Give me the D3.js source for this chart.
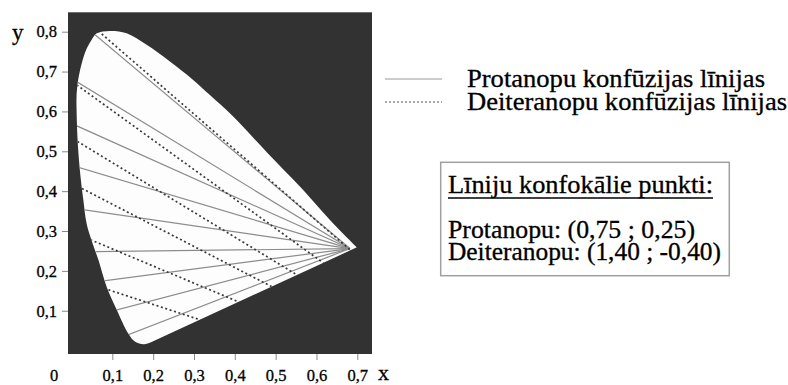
<!DOCTYPE html>
<html>
<head>
<meta charset="utf-8">
<script src="https://cdn.jsdelivr.net/npm/d3@7/dist/d3.min.js"></script>
<style>
  html, body { margin: 0; padding: 0; background: #fff; }
  svg { display: block; }
  text { font-family: "Liberation Serif", "Times New Roman", serif; fill: #000; stroke: #000; stroke-width: 0.3px; }
</style>
</head>
<body>
<svg id="chart" width="788" height="385"></svg>
<script>
// Spectral locus (chromaticity x, y), from the violet end up the green arc to the red end
const locus = [
  [0.192, 0.020], [0.176, 0.016], [0.156, 0.022], [0.139, 0.043],
  [0.111, 0.102], [0.086, 0.160], [0.066, 0.227], [0.049, 0.277],
  [0.037, 0.319], [0.029, 0.378], [0.023, 0.428], [0.017, 0.495],
  [0.013, 0.579], [0.014, 0.662], [0.033, 0.747], [0.049, 0.779],
  [0.062, 0.796], [0.094, 0.802], [0.135, 0.796], [0.184, 0.767],
  [0.241, 0.725], [0.298, 0.679], [0.339, 0.641], [0.396, 0.587],
  [0.480, 0.496], [0.560, 0.411], [0.641, 0.319], [0.699, 0.259]
];

// Where each confusion line leaves the locus
const protanStarts = [
  [0.058, 0.792], [0.017, 0.672], [0.017, 0.562], [0.025, 0.457],
  [0.033, 0.353], [0.053, 0.248], [0.078, 0.175], [0.111, 0.102],
  [0.147, 0.043]
];
const deutanStarts = [
  [0.070, 0.798], [0.023, 0.659], [0.019, 0.522], [0.025, 0.407],
  [0.049, 0.277], [0.086, 0.154]
];
// Points the two line families run towards on this diagram
const protanMeet = [0.682, 0.256];
const deutanMeet = [1.22, -0.226];

// Axis ticks
const xTicks = [0.1, 0.2, 0.3, 0.4, 0.5, 0.6, 0.7];
const yTicks = [0.1, 0.2, 0.3, 0.4, 0.5, 0.6, 0.7, 0.8];

// Legend and note texts
const legendLabels = ["Protanopu konfūzijas līnijas", "Deiteranopu konfūzijas līnijas"];
const legendWidths = [298, 320];
const noteTitle = "Līniju konfokālie punkti:";
const noteLines = ["Protanopu: (0,75 ; 0,25)", "Deiteranopu: (1,40 ; -0,40)"];
const noteWidths = [247, 273];

const svg = d3.select("#chart");
const locale = d3.formatLocale({ decimal: ",", thousands: " ", grouping: [3], currency: ["", ""] });
const fmt = locale.format(".1f");

const x = d3.scaleLinear().domain([0, 0.7]).range([71.5, 357.3]);
const y = d3.scaleLinear().domain([0, 0.8]).range([350.6, 31.7]);

const plot = { left: 68, right: 372, top: 12.3, bottom: 354 };

// dark plot field
svg.append("rect")
  .attr("x", plot.left).attr("y", plot.top)
  .attr("width", plot.right - plot.left).attr("height", plot.bottom - plot.top)
  .attr("fill", "#323232");

// locus outline: smooth arc, closed by the straight purple line
const arc = d3.line().x(d => x(d[0])).y(d => y(d[1])).curve(d3.curveCatmullRom.alpha(0.5));
const locusPath = arc(locus) + "Z";

svg.append("clipPath").attr("id", "locusClip")
  .append("path").attr("d", locusPath);

svg.append("path").attr("d", locusPath).attr("fill", "#fdfdfd");

const lines = svg.append("g").attr("clip-path", "url(#locusClip)");

// protanope confusion lines: from the meeting point out through each start point
lines.selectAll("line.protan").data(protanStarts).join("line")
  .attr("class", "protan")
  .attr("x1", x(protanMeet[0])).attr("y1", y(protanMeet[1]))
  .attr("x2", d => x(protanMeet[0] + 1.15 * (d[0] - protanMeet[0])))
  .attr("y2", d => y(protanMeet[1] + 1.15 * (d[1] - protanMeet[1])))
  .attr("stroke", "#8c8c8c").attr("stroke-width", 1.2);

// deuteranope confusion lines: through each start point towards the far meeting point
lines.selectAll("line.deutan").data(deutanStarts).join("line")
  .attr("class", "deutan")
  .attr("x1", d => x(d[0] - 0.1 * (deutanMeet[0] - d[0])))
  .attr("y1", d => y(d[1] - 0.1 * (deutanMeet[1] - d[1])))
  .attr("x2", x(deutanMeet[0])).attr("y2", y(deutanMeet[1]))
  .attr("stroke", "#3a3a3a").attr("stroke-width", 1.7)
  .attr("stroke-dasharray", "2,2.6");

// axes
const xAxis = svg.append("g").attr("transform", `translate(0,${plot.bottom})`)
  .call(d3.axisBottom(x).tickValues(xTicks).tickFormat(fmt).tickSize(6).tickPadding(9));
const yAxis = svg.append("g").attr("transform", `translate(${plot.left},0)`)
  .call(d3.axisLeft(y).tickValues(yTicks).tickFormat(fmt).tickSize(6).tickPadding(5));
[xAxis, yAxis].forEach(g => {
  g.select(".domain").remove();
  g.selectAll(".tick line").attr("stroke", "#8a8a8a");
  g.selectAll(".tick text").style("font-family", '"Liberation Serif", serif')
    .style("font-size", "16.5px").attr("fill", "#000");
});

// shared origin label and axis names
svg.append("text").attr("x", 54).attr("y", 381).attr("text-anchor", "middle")
  .style("font-size", "16.5px").text(fmt(0).replace(",0", ""));
svg.append("text").attr("x", 12).attr("y", 40).style("font-size", "23px").text("y");
svg.append("text").attr("x", 378).attr("y", 380).style("font-size", "22px").text("x");

// legend
const legend = svg.append("g");
const legendY = [79, 102];
legend.selectAll("line").data(legendLabels).join("line")
  .attr("x1", 385).attr("x2", 442)
  .attr("y1", (d, i) => legendY[i]).attr("y2", (d, i) => legendY[i])
  .attr("stroke", (d, i) => i === 0 ? "#9a9a9a" : "#555")
  .attr("stroke-width", (d, i) => i === 0 ? 1.2 : 1.1)
  .attr("stroke-dasharray", (d, i) => i === 0 ? null : "2,2");
legend.selectAll("text").data(legendLabels).join("text")
  .attr("x", 467).attr("y", (d, i) => legendY[i] + 7.5)
  .attr("textLength", (d, i) => legendWidths[i]).attr("lengthAdjust", "spacingAndGlyphs")
  .style("font-size", "24.5px").text(d => d);

// note box with the confocal points
svg.append("rect")
  .attr("x", 440.7).attr("y", 162.3).attr("width", 288.6).attr("height", 113.4)
  .attr("fill", "#fff").attr("stroke", "#a0a0a0").attr("stroke-width", 1.5);
svg.append("text").attr("x", 448).attr("y", 193)
  .attr("textLength", 265).attr("lengthAdjust", "spacingAndGlyphs")
  .style("font-size", "24.5px").text(noteTitle);
svg.append("line").attr("x1", 448).attr("x2", 448 + 265)
  .attr("y1", 198).attr("y2", 198).attr("stroke", "#000").attr("stroke-width", 1.3);
svg.selectAll("text.note").data(noteLines).join("text")
  .attr("class", "note")
  .attr("x", 448).attr("y", (d, i) => 238 + i * 21.5)
  .attr("textLength", (d, i) => noteWidths[i]).attr("lengthAdjust", "spacingAndGlyphs")
  .style("font-size", "24.5px").text(d => d);
</script>
</body>
</html>
